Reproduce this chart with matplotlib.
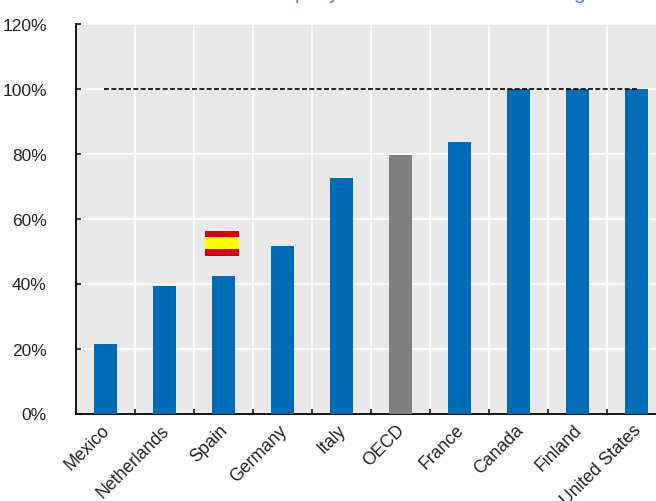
"""Bar chart by country, 100% reference line, Spain flag marker."""

import matplotlib

matplotlib.use("Agg")
import matplotlib.pyplot as plt
from matplotlib.patches import Rectangle

W, H = 656, 502
LEFT, RIGHT, TOP, BOTTOM = 76, 666, 24.5, 414.5

countries = ["Mexico", "Netherlands", "Spain", "Germany", "Italy", "OECD",
             "France", "Canada", "Finland", "United States"]
values = [21.3, 39.2, 42.4, 51.5, 72.6, 79.5, 83.4, 100, 100, 100]
y_ticks = [0, 20, 40, 60, 80, 100, 120]
reference = [100, 100]
reference_x = [-0.02, 9.02]

BLUE = "#006BB6"
GREY = "#7F7F7F"
BG = "#E9E9E9"
TEXT = "#222222"

plt.rcParams["font.family"] = ["Liberation Sans", "DejaVu Sans"]

fig = plt.figure(figsize=(W / 100, H / 100), dpi=100)
ax = fig.add_axes([LEFT / W, 1 - BOTTOM / H, (RIGHT - LEFT) / W, (BOTTOM - TOP) / H])
ax.set_facecolor(BG)
fig.patch.set_facecolor("white")

x = range(len(countries))
colors = [GREY if c == "OECD" else BLUE for c in countries]
ax.bar(x, values, width=0.405, color=colors, zorder=3)
ax.plot(reference_x, reference, color="black", lw=1.2, ls=(0, (3.0, 1.4)), zorder=4)

ax.set_xlim(-0.5, 9.5)
ax.set_ylim(0, 120)
ax.set_yticks(y_ticks)
ax.set_yticklabels([f"{v}%" for v in y_ticks], fontsize=12.5, color=TEXT)
ax.set_xticks([i + 0.5 for i in x])
ax.set_xticklabels([])
ax.grid(True, color="white", lw=1.2, zorder=1)
ax.set_axisbelow(True)
ax.tick_params(axis="y", direction="in", length=3.6, width=1.1, pad=21)
ax.tick_params(axis="x", direction="in", length=3.6, width=1.1)
for s in ["top", "right"]:
    ax.spines[s].set_visible(False)
for s in ["left", "bottom"]:
    ax.spines[s].set_linewidth(1.3)

for i, name in enumerate(countries):
    ax.annotate(name, xy=(i, 0), xycoords=("data", "axes fraction"),
                xytext=(-3, -5.5), textcoords="offset points", rotation=45,
                ha="right", va="top", rotation_mode="anchor", fontsize=12.7,
                color=TEXT, annotation_clip=False)

# Spain flag, drawn in data coordinates above its bar
fx, fw = 1.68, 0.58
ax.add_patch(Rectangle((fx, 48.5), fw, 7.7, fc="#D4000F", ec="none", zorder=5))
ax.add_patch(Rectangle((fx, 50.5), fw, 3.8, fc="#FFFF00", ec="none", zorder=6))

# the title is cropped by the top edge: only these descenders are visible
for ch, px in [("p", 300), ("y", 333), ("g", 579)]:
    fig.text(px / W, 1 + 1 / H, ch, ha="center", va="baseline", fontsize=15,
             color="#4F81BD")

fig.savefig("out.png", dpi=100)
